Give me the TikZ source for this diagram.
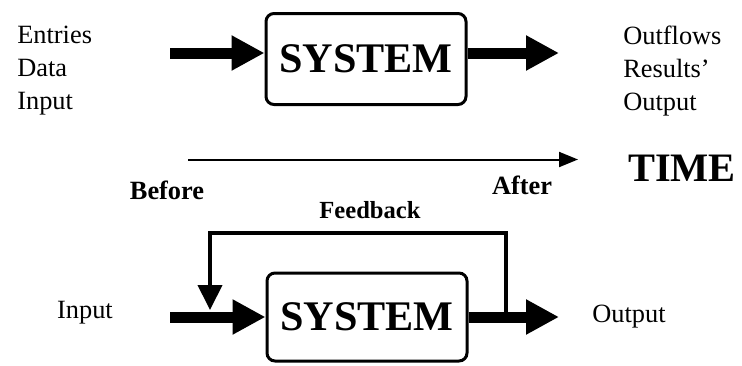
\documentclass[tikz,border=0pt]{standalone}
\usepackage{fontspec}
\setmainfont{Liberation Serif}
\usetikzlibrary{arrows.meta}

\begin{document}
\begin{tikzpicture}[
  sysbox/.style={rectangle, rounded corners=0.16cm, draw=black, line width=0.06cm,
                 minimum width=4.0cm, minimum height=1.82cm, align=center,
                 font=\fontsize{24}{28}\selectfont\bfseries},
  lab/.style={inner sep=0pt, align=left, font=\fontsize{15}{18.8}\selectfont},
  blab/.style={inner sep=0pt, font=\fontsize{15}{18}\selectfont\bfseries},
  flow/.style={line width=0.22cm, -{Triangle[length=0.66cm, width=0.66cm]}},
  fback/.style={line width=0.08cm, -{Triangle[length=0.5cm, width=0.48cm]}},
  timeline/.style={line width=0.04cm, -{Triangle[length=0.38cm, width=0.3cm]}},
]
\useasboundingbox (0,0) rectangle (14.84,-7.30);
% ---- open system: inputs -> SYSTEM -> outputs
\node[sysbox] (sys_top) at (7.32, -1.18) {SYSTEM};
\node[lab, anchor=west] (entries) at (0.34, -1.42) {Entries\\Data\\Input};
\node[lab, anchor=west] (outflows) at (12.46, -1.42) {Outflows\\Results'\\Output};
\coordinate (in_top) at (3.40, -1.06);
\coordinate (out_top) at (11.18, -1.06);
\draw[flow] (in_top) -- (sys_top.west |- in_top);
\draw[flow] (sys_top.east |- in_top) -- (out_top);
% ---- time axis
\coordinate (t_start) at (3.76, -3.19);
\coordinate (t_end) at (11.56, -3.19);
\draw[timeline] (t_start) -- (t_end);
\node[blab] (before) at (3.34, -3.80) {Before};
\node[blab] (after) at (10.44, -3.70) {After};
\node[inner sep=0pt, font=\fontsize{23}{26}\selectfont\bfseries] (time) at (13.64, -3.36) {TIME};
% ---- system with feedback loop
\node[sysbox, minimum height=1.76cm] (sys_bot) at (7.34, -6.34) {SYSTEM};
\node[lab] (input) at (1.70, -6.26) {Input};
\node[lab] (output) at (12.58, -6.34) {Output};
\node[blab, font=\fontsize{14}{16}\selectfont\bfseries] (feedback) at (7.40, -4.20) {Feedback};
\coordinate (in_bot) at (3.40, -6.34);
\coordinate (out_bot) at (11.18, -6.34);
\coordinate (fb_right) at (10.12, -4.66);
\coordinate (fb_left) at (4.20, -4.66);
\coordinate (fb_end) at (4.20, -6.20);
\draw[flow] (in_bot) -- (sys_bot.west);
\draw[flow] (sys_bot.east) -- (out_bot);
\draw[fback] (sys_bot.east -| fb_right) -- (fb_right) -- (fb_left) -- (fb_end);
\end{tikzpicture}
\end{document}
